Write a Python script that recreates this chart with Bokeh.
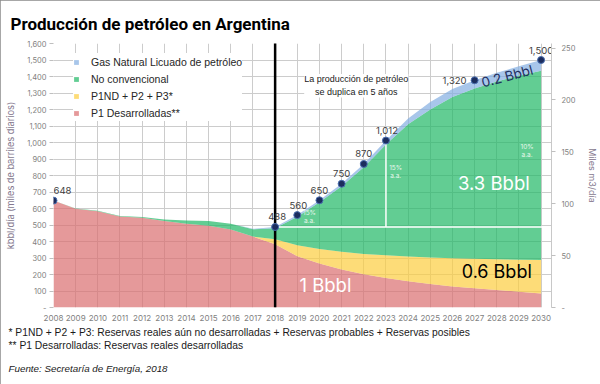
import math
from bokeh.plotting import figure
from bokeh.models import (ColumnDataSource, Range1d, LinearAxis, FixedTicker,
                          NumeralTickFormatter, Legend, LegendItem, Label, Title)
from bokeh.embed import file_html
from bokeh.resources import INLINE
from bokeh.core.properties import value

# ---------------- data (kbbl/día) ----------------
years = list(range(2008, 2031))
p1_desarrolladas = [648, 598, 584, 552, 544, 525, 507, 495, 473, 430, 384, 311, 266,
                    230, 201, 179, 159, 142, 128, 116, 106, 96, 85]
p1nd_p2_p3 = [0, 0, 0, 0, 0, 0, 0, 0, 0, 0, 29, 67, 89,
              108, 124, 137, 150, 161, 170, 179, 186, 194, 203]
no_convencional = [0, 2, 3, 3, 4, 8, 20, 30, 34, 44, 67, 172, 283,
                   397, 525, 672, 801, 897, 978, 1032, 1078, 1114, 1147]
gas_natural_licuado = [0, 0, 0, 0, 0, 0, 0, 0, 0, 3, 8, 10, 12,
                       15, 20, 24, 35, 45, 48, 50, 52, 58, 65]

point_years = [2008, 2018, 2019, 2020, 2021, 2022, 2023, 2027, 2030]
point_labels = ["648", "488", "560", "650", "750", "870", "1,012", "1,320", "1,500"]

series_names = ["P1 Desarrolladas**", "P1ND + P2 + P3*", "No convencional",
                "Gas Natural Licuado de petróleo"]
y_ticks = list(range(0, 1700, 100))
m3_ticks = [0, 50, 100, 150, 200, 250]
BBL_TO_M3 = 0.158987

total = [a + b + c + d for a, b, c, d in zip(p1_desarrolladas, p1nd_p2_p3,
                                             no_convencional, gas_natural_licuado)]
point_values = [total[years.index(y)] for y in point_years]
base_2018 = total[years.index(2018)]
top_2023 = total[years.index(2023)]

# ---------------- figure ----------------
p = figure(width=600, height=384, output_backend="svg", toolbar_location=None,
           x_range=Range1d(2008, 2030.47), y_range=Range1d(0, 1600),
           min_border_left=53, min_border_right=47, min_border_top=43,
           min_border_bottom=77)
p.outline_line_color = None
p.background_fill_color = "white"
p.border_fill_color = "white"
p.styles = {"outline": "2px solid #8a8a8a", "outline-offset": "-2px"}

# title
p.title.text = "Producción de petróleo en Argentina"
p.title.align = "left"
p.title.offset = -43
p.title.standoff = 19
p.title.text_font = "Roboto"
p.title.text_font_size = "17px"
p.title.text_font_style = "bold"
p.title.text_color = "black"

grid_col = "#cccccc"
p.xgrid.grid_line_color = grid_col
p.ygrid.grid_line_color = grid_col

# x axis
p.xaxis.ticker = FixedTicker(ticks=years)
p.xaxis.axis_line_color = None
p.xaxis.major_tick_line_color = None
p.xaxis.major_tick_out = 0
p.xaxis.major_tick_in = 0
p.xaxis.minor_tick_line_color = None
p.xaxis.minor_tick_out = 0
p.xaxis.major_label_text_font = "Inter"
p.xaxis.major_label_text_font_size = "8px"
p.xaxis.major_label_text_color = "#7f7f7f"
p.xaxis.major_label_standoff = 7

# left axis
p.yaxis.ticker = FixedTicker(ticks=y_ticks)
p.yaxis.formatter = NumeralTickFormatter(format="0,0")
p.yaxis.major_label_overrides = {0: "-"}
p.yaxis.axis_line_color = None
p.yaxis.major_tick_out = 4
p.yaxis.major_tick_in = 0
p.yaxis.major_tick_line_color = "#bfbfbf"
p.yaxis.minor_tick_line_color = None
p.yaxis.major_label_standoff = 3
p.yaxis.major_label_text_font = "Inter"
p.yaxis.major_label_text_font_size = "7.5px"
p.yaxis.major_label_text_color = "#7f7f7f"
p.yaxis.axis_label = "kbbl/día (miles de barriles diarios)"
p.yaxis.axis_label_standoff = 8
p.yaxis.axis_label_text_font = "Inter"
p.yaxis.axis_label_text_font_size = "9.2px"
p.yaxis.axis_label_text_font_style = "normal"
p.yaxis.axis_label_text_color = "#85798f"

# right axis (miles m3/día)
p.extra_y_ranges = {"m3": Range1d(0, 1600 * BBL_TO_M3)}
ax_r = LinearAxis(y_range_name="m3", ticker=FixedTicker(ticks=m3_ticks))
ax_r.major_label_overrides = {0: "-"}
ax_r.axis_line_color = "#c8c8c8"
ax_r.major_tick_out = 4
ax_r.major_tick_in = 0
ax_r.major_tick_line_color = "#bfbfbf"
ax_r.minor_tick_line_color = None
ax_r.major_label_standoff = 6
ax_r.major_label_text_font = "Inter"
ax_r.major_label_text_font_size = "7.5px"
ax_r.major_label_text_color = "#7f7f7f"
ax_r.axis_label = "Miles m3/día"
ax_r.axis_label_standoff = 8
ax_r.axis_label_text_font = "Inter"
ax_r.axis_label_text_font_size = "9px"
ax_r.axis_label_text_font_style = "normal"
ax_r.axis_label_text_color = "#85798f"
p.add_layout(ax_r, "right")

# footnotes below the x axis
notes = Title(text="* P1ND + P2 + P3: Reservas reales aún no desarrolladas + Reservas probables + Reservas posibles\n"
                   "** P1 Desarrolladas: Reservas reales desarrolladas",
              align="left", offset=-45, standoff=4,
              text_font="Liberation Sans", text_font_size="10.3px",
              text_font_style="normal", text_line_height=1.2, text_color="#1a1a1a")
p.add_layout(notes, "below")
source_note = Title(text="Fuente: Secretaría de Energía, 2018", align="left", offset=-45,
                    standoff=14, text_font="Liberation Sans", text_font_size="9.8px",
                    text_font_style="italic", text_color="#1a1a1a")
p.add_layout(source_note, "below")

# ---------------- stacked areas ----------------
src = ColumnDataSource(dict(year=years, p1=p1_desarrolladas, p1nd=p1nd_p2_p3,
                            nc=no_convencional, gnl=gas_natural_licuado))
colors = ["#DA6D6F", "#FCCD3E", "#20B865", "#83AEE1"]
rs = p.varea_stack(["p1", "p1nd", "nc", "gnl"], x="year", color=colors,
                   fill_alpha=0.7, source=src)

legend = Legend(items=[LegendItem(label=series_names[i], renderers=[rs[i]])
                       for i in (3, 2, 1, 0)],
                location=(20, 186), orientation="vertical")
legend.border_line_color = None
legend.background_fill_color = "white"
legend.background_fill_alpha = 1.0
legend.padding = 4
legend.margin = 0
legend.spacing = 0
legend.label_height = 17
legend.glyph_height = 6
legend.glyph_width = 6
legend.label_standoff = 12
legend.label_text_font = "Liberation Sans"
legend.label_text_font_size = "10.5px"
legend.label_text_color = "#262626"
p.add_layout(legend)

# white reference lines (production doubles in 5 years)
p.ray(x=[2018], y=[base_2018], length=0, angle=0, line_color="white", line_width=1.5)
p.segment(x0=[2023], y0=[base_2018], x1=[2023], y1=[top_2023],
          line_color="white", line_width=1.5)

# black vertical line at 2018
p.ray(x=[2018], y=[0], length=0, angle=math.pi / 2, line_color="black", line_width=2.5)

# points and labels
psrc = ColumnDataSource(dict(x=point_years, y=point_values, label=point_labels,
                             dx=[9, 2, 1, 0, 0, 0, 1, -20, 0],
                             dy=[-10, -10, -10, -10, -10, -10, -10, 0, -10]))
p.scatter("x", "y", source=psrc, size=7, fill_color="#1c2d5e",
          line_color="#4a6fb0", line_width=1)
p.text("x", "y", text="label", x_offset="dx", y_offset="dy", source=psrc,
       text_align="center", text_baseline="middle", text_font=value("Inter"),
       text_font_size="9.5px", text_color="#404040")

# ---------------- annotations in the plot ----------------
def add_label(x, y, text, size, color, **kw):
    lab = Label(x=x, y=y, text=text, text_font="Inter", text_font_size=size,
                text_color=color, text_align="center", text_baseline="middle", **kw)
    p.add_layout(lab)
    return lab

add_label(2027.87, 752, "3.3 Bbbl", "18.5px", "white")
add_label(2028.0, 216, "0.6 Bbbl", "18px", "black")
add_label(2020.27, 135, "1 Bbbl", "18.5px", "white")
add_label(2028.47, 1403, "0.2 Bbbl", "13.5px", "#1f3060", angle=0.26)
for xx, yy, tt in [(2019.55, 551, "15%\na.a."), (2023.44, 824, "15%\na.a."),
                   (2029.37, 949, "10%\na.a.")]:
    add_label(xx, yy, tt, "6.5px", "#e6f7ec", text_line_height=1.0)

note = Label(x=2021.66, y=1344, text="La producción de petróleo\nse duplica en 5 años",
             text_font="Liberation Sans", text_font_size="9px", text_color="#1a1a1a",
             text_align="center", text_baseline="middle", text_line_height=1.35,
             background_fill_color="white", background_fill_alpha=1.0)
p.add_layout(note)

open("out.html", "w").write(file_html(p, INLINE))
